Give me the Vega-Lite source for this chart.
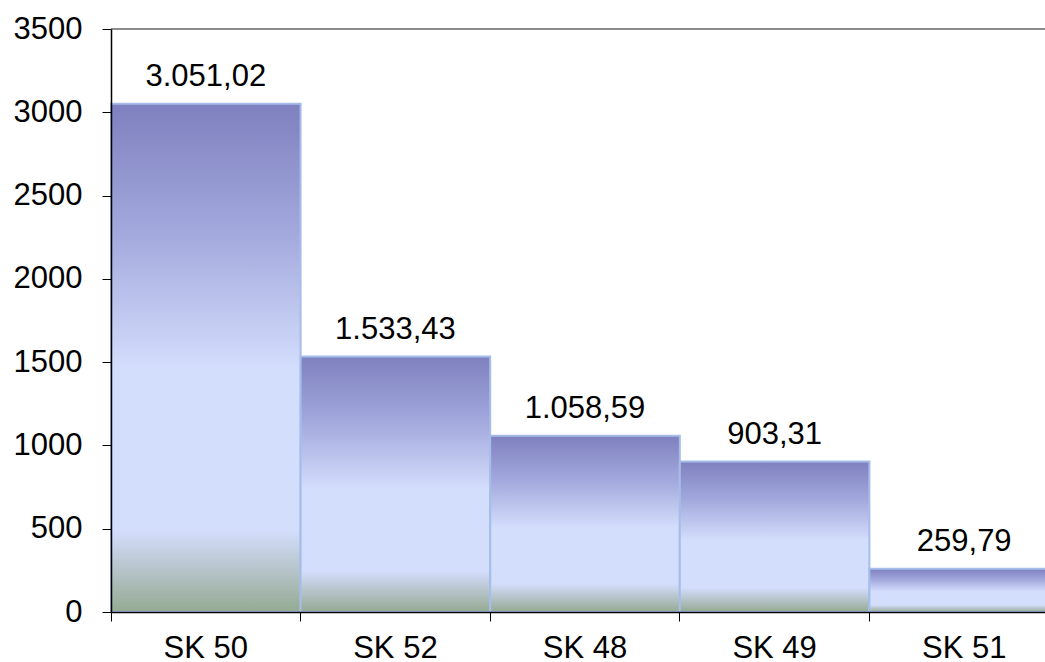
{
  "$schema": "https://vega.github.io/schema/vega-lite/v6.json",
  "autosize": "none",
  "padding": {"left": 111, "top": 29, "right": 0, "bottom": 50},
  "width": 948,
  "height": 583,
  "background": "white",
  "config": {
    "view": {"stroke": null},
    "font": "Liberation Sans",
    "locale": {
      "number": {"decimal": ",", "thousands": ".", "grouping": [3], "currency": ["", " €"]}
    }
  },
  "data": {
    "values": [
      {"site": "SK 50", "value": 3051.02},
      {"site": "SK 52", "value": 1533.43},
      {"site": "SK 48", "value": 1058.59},
      {"site": "SK 49", "value": 903.31},
      {"site": "SK 51", "value": 259.79}
    ]
  },
  "encoding": {
    "x": {
      "field": "site",
      "type": "nominal",
      "sort": null,
      "scale": {"paddingInner": 0, "paddingOuter": 0},
      "axis": {
        "title": null,
        "labelAngle": 0,
        "labelFont": "Liberation Sans",
        "labelFontSize": 31,
        "labelColor": "black",
        "labelPadding": 12,
        "bandPosition": 0,
        "tickSize": 9,
        "tickColor": "black",
        "domainColor": "black",
        "domainWidth": 1.5,
        "zindex": 1
      }
    },
    "y": {
      "field": "value",
      "type": "quantitative",
      "scale": {"domain": [0, 3500], "nice": false},
      "axis": {
        "title": null,
        "values": [0, 500, 1000, 1500, 2000, 2500, 3000, 3500],
        "format": "d",
        "labelFont": "Liberation Sans",
        "labelFontSize": 31,
        "labelColor": "black",
        "labelPadding": 20,
        "tickSize": 9,
        "tickColor": "black",
        "domainColor": "black",
        "domainWidth": 1.5,
        "grid": false,
        "zindex": 1
      }
    }
  },
  "layer": [
    {
      "mark": {"type": "rule", "color": "#8c8c8c", "strokeWidth": 2},
      "data": {"values": [{"top": 3500}]},
      "encoding": {"y": {"field": "top", "type": "quantitative"}, "x": null}
    },
    {
      "mark": {
        "type": "bar",
        "stroke": "#a6bdea",
        "strokeWidth": 2,
        "fill": {
          "gradient": "linear",
          "x1": 0, "y1": 0, "x2": 0, "y2": 1,
          "stops": [
            {"offset": 0, "color": "#7f80bf"},
            {"offset": 0.25, "color": "#a2a8dc"},
            {"offset": 0.52, "color": "#d3ddfc"},
            {"offset": 0.84, "color": "#d3ddfc"},
            {"offset": 0.92, "color": "#b5c3c8"},
            {"offset": 1, "color": "#94aa92"}
          ]
        }
      }
    },
    {
      "mark": {
        "type": "text",
        "font": "Liberation Sans",
        "fontSize": 31,
        "color": "black",
        "baseline": "alphabetic",
        "dy": -18
      },
      "encoding": {
        "text": {"field": "value", "type": "quantitative", "format": ",.2f"}
      }
    }
  ]
}
